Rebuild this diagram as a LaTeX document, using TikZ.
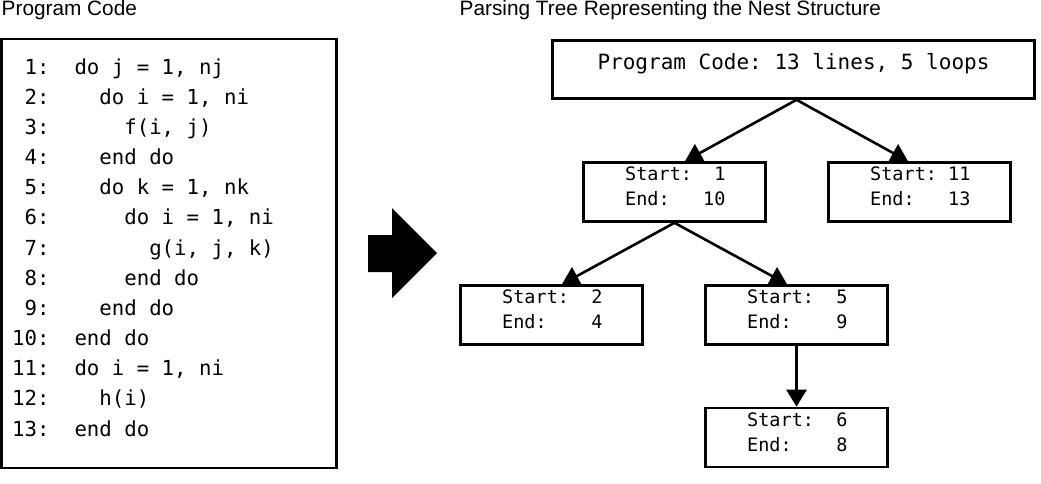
\documentclass[tikz,border=0pt]{standalone}
\usepackage{fontspec}
\setmainfont{Liberation Sans}
\setmonofont{DejaVu Sans Mono}
\usetikzlibrary{arrows.meta}
\begin{document}
\begin{tikzpicture}[x=1pt,y=-1pt,
  box/.style={draw, line width=2.6pt, rectangle, inner sep=0pt},
  treebox/.style={box, minimum width=182pt, minimum height=59pt},
  treetext/.style={anchor=base west, inner sep=0pt, font=\ttfamily\fontsize{18.5}{25}\selectfont},
  code/.style={anchor=base west, inner sep=0pt, font=\ttfamily\fontsize{20.7}{25}\selectfont},
  title/.style={anchor=base west, inner sep=0pt, font=\fontsize{20.8}{25}\selectfont},
  edge/.style={line width=2.6pt, -{Triangle[length=17pt,width=20pt]}}]
\useasboundingbox (0,0) rectangle (1041,483);
% titles
\node[title] (t1) at (1.5,15) {Program Code};
\node[title] (t2) at (459.5,15) {Parsing Tree Representing the Nest Structure};
% code box
\node[box, minimum width=335pt, minimum height=429pt] (codebox) at (169,253.5) {};
\node[code] (l1)  at (12,74)     {~1:~~do~j~=~1,~nj};
\node[code] (l2)  at (12,104.2)  {~2:~~~~do~i~=~1,~ni};
\node[code] (l3)  at (12,134.3)  {~3:~~~~~~f(i,~j)};
\node[code] (l4)  at (12,164.5)  {~4:~~~~end~do};
\node[code] (l5)  at (12,194.7)  {~5:~~~~do~k~=~1,~nk};
\node[code] (l6)  at (12,224.8)  {~6:~~~~~~do~i~=~1,~ni};
\node[code] (l7)  at (12,255)    {~7:~~~~~~~~g(i,~j,~k)};
\node[code] (l8)  at (12,285.2)  {~8:~~~~~~end~do};
\node[code] (l9)  at (12,315.3)  {~9:~~~~end~do};
\node[code] (l10) at (12,345.5)  {10:~~end~do};
\node[code] (l11) at (12,375.7)  {11:~~do~i~=~1,~ni};
\node[code] (l12) at (12,405.8)  {12:~~~~h(i)};
\node[code] (l13) at (12,436)    {13:~~end~do};
% big arrow
\fill (368,235) -- (392,235) -- (392,208) -- (437,253) -- (392,298) -- (392,272) -- (368,272) -- cycle;
% tree
\node[box, minimum width=482pt, minimum height=58pt, text height=15pt, text depth=16pt,
  font=\ttfamily\fontsize{21}{25}\selectfont] (top) at (793.5,69.5) {Program~Code:~13~lines,~5~loops};
\node[treebox] (b1) at (674.5,192) {};
\node[treebox] (b2) at (919.5,192) {};
\node[treebox] (b3) at (551.5,315) {};
\node[treebox] (b4) at (796.5,315) {};
\node[treebox] (b5) at (796.5,437.5) {};
\node[treetext] (b1s) at ([shift={(-49.5,-11.5)}]b1.center) {Start:~~1};
\node[treetext] (b1e) at ([shift={(-49.5,13.5)}]b1.center) {End:~~~10};
\node[treetext] (b2s) at ([shift={(-49.5,-11.5)}]b2.center) {Start:~11};
\node[treetext] (b2e) at ([shift={(-49.5,13.5)}]b2.center) {End:~~~13};
\node[treetext] (b3s) at ([shift={(-49.5,-11.5)}]b3.center) {Start:~~2};
\node[treetext] (b3e) at ([shift={(-49.5,13.5)}]b3.center) {End:~~~~4};
\node[treetext] (b4s) at ([shift={(-49.5,-11.5)}]b4.center) {Start:~~5};
\node[treetext] (b4e) at ([shift={(-49.5,13.5)}]b4.center) {End:~~~~9};
\node[treetext] (b5s) at ([shift={(-49.5,-11.5)}]b5.center) {Start:~~6};
\node[treetext] (b5e) at ([shift={(-49.5,13.5)}]b5.center) {End:~~~~8};
\draw[edge] ([xshift=3pt]top.south) -- ([xshift=10.5pt]b1.north);
\draw[edge] ([xshift=3pt]top.south) -- ([xshift=-11.5pt]b2.north);
\draw[edge] (b1.south) -- ([xshift=10.5pt]b3.north);
\draw[edge] (b1.south) -- ([xshift=-9.5pt]b4.north);
\draw[edge] (b4.south) -- (b5.north);
\end{tikzpicture}
\end{document}
